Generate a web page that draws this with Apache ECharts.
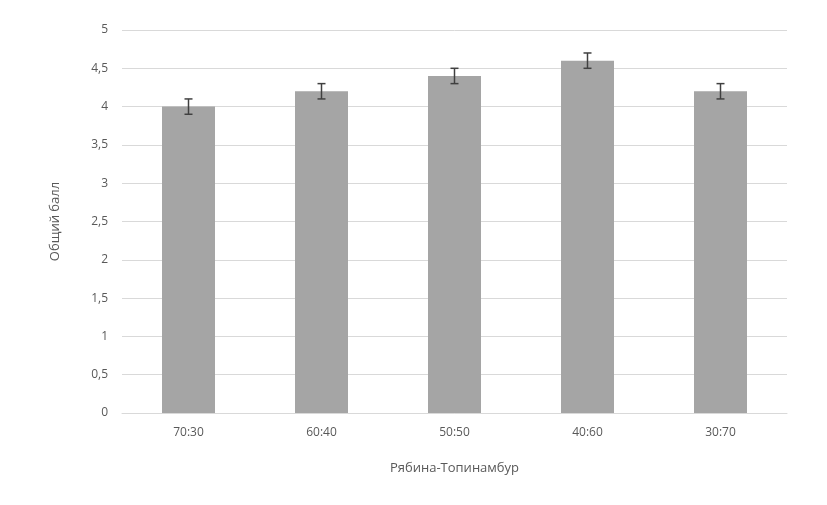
<!DOCTYPE html>
<html>
<head>
<meta charset="utf-8">
<script src="https://cdn.jsdelivr.net/npm/echarts@6/dist/echarts.min.js"></script>
<style>
  html, body { margin: 0; padding: 0; background: #fff; }
  #chart { width: 827px; height: 505px; }
</style>
</head>
<body>
<div id="chart"></div>
<script>
  var categories = ['70:30', '60:40', '50:50', '40:60', '30:70'];
  var scores = [4.0, 4.2, 4.4, 4.6, 4.2];
  var errors = [0.1, 0.1, 0.1, 0.1, 0.1];

  var errorData = categories.map(function (c, i) {
    return [i, scores[i] - errors[i], scores[i] + errors[i]];
  });

  var myChart = echarts.init(document.getElementById('chart'));
  var font = '"Open Sans", "Noto Sans", sans-serif';
  var option = {
    animation: false,
    textStyle: { fontFamily: font },
    grid: { left: 122, right: 40, top: 30, bottom: 92 },
    xAxis: {
      type: 'category',
      data: categories,
      name: 'Рябина-Топинамбур',
      nameLocation: 'middle',
      nameGap: 49,
      nameTextStyle: { color: '#595959', fontSize: 13, fontFamily: font },
      axisLine: { lineStyle: { color: '#d9d9d9' } },
      axisTick: { show: false },
      axisLabel: { color: '#595959', fontSize: 12, margin: 14, fontFamily: font }
    },
    yAxis: {
      type: 'value',
      min: 0,
      max: 5,
      interval: 0.5,
      name: 'Общий балл',
      nameLocation: 'middle',
      nameGap: 60,
      nameTextStyle: { color: '#595959', fontSize: 13, fontFamily: font },
      axisLine: { show: false },
      axisTick: { show: false },
      splitLine: { lineStyle: { color: '#d9d9d9' } },
      axisLabel: {
        color: '#595959', fontSize: 12, margin: 14, fontFamily: font,
        formatter: function (v) { return String(v).replace('.', ','); }
      }
    },
    series: [
      {
        type: 'bar',
        data: scores,
        barWidth: 53,
        itemStyle: { color: '#a5a5a5' }
      },
      {
        type: 'custom',
        data: errorData,
        z: 10,
        renderItem: function (params, api) {
          var x = api.value(0);
          var lo = api.coord([x, api.value(1)]);
          var hi = api.coord([x, api.value(2)]);
          var hw = 4;
          var style = { stroke: '#404040', lineWidth: 1.5 };
          return {
            type: 'group',
            children: [
              { type: 'line', shape: { x1: hi[0], y1: hi[1], x2: lo[0], y2: lo[1] }, style: style },
              { type: 'line', shape: { x1: hi[0] - hw, y1: hi[1], x2: hi[0] + hw, y2: hi[1] }, style: style },
              { type: 'line', shape: { x1: lo[0] - hw, y1: lo[1], x2: lo[0] + hw, y2: lo[1] }, style: style }
            ]
          };
        }
      }
    ]
  };
  option && myChart.setOption(option);
</script>
</body>
</html>
